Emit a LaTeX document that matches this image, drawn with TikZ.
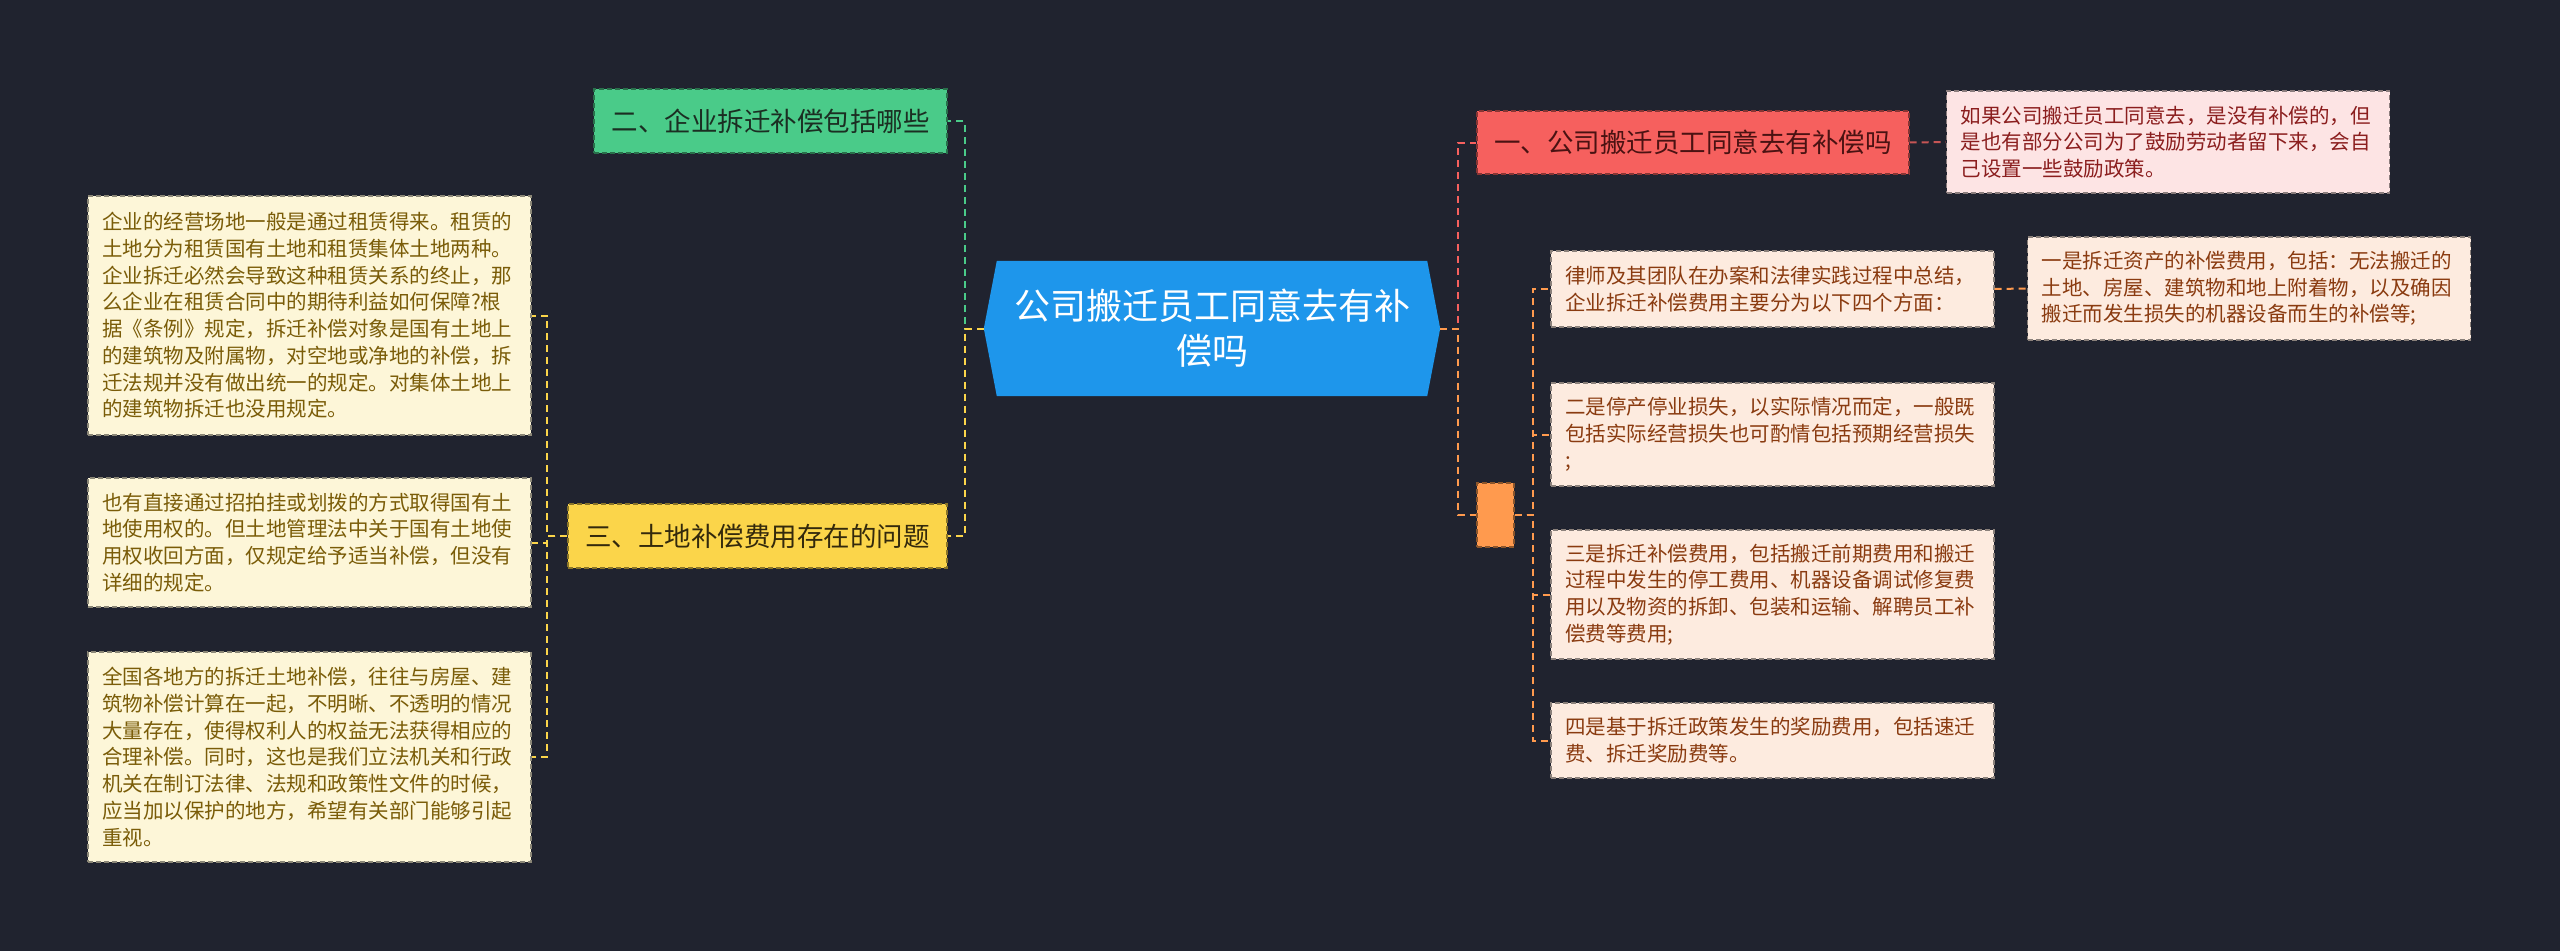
\documentclass[tikz,border=0pt]{standalone}
\usepackage{fontspec}
\setmainfont{Noto Sans CJK SC}
\usetikzlibrary{backgrounds}
\definecolor{bgc}{HTML}{20232F}
\definecolor{rootblue}{HTML}{1E96EB}
\definecolor{gfill}{HTML}{4ACB89}
\definecolor{gtext}{HTML}{1B2E22}
\definecolor{yfill}{HTML}{FBD54A}
\definecolor{ytext}{HTML}{33290C}
\definecolor{rfill}{HTML}{F6605E}
\definecolor{rtext}{HTML}{4A1212}
\definecolor{ofill}{HTML}{FF9A4E}
\definecolor{pinkfill}{HTML}{FDE4E4}
\definecolor{pinktext}{HTML}{8B1E1E}
\definecolor{peachfill}{HTML}{FDEBDF}
\definecolor{peachtext}{HTML}{8A3B10}
\definecolor{creamfill}{HTML}{FDF6D8}
\definecolor{creamtext}{HTML}{7A5C08}
\definecolor{pinkline}{HTML}{C65555}
\begin{document}
\begin{tikzpicture}[x=1pt,y=-1pt,
  bord/.style={dash pattern=on 5pt off 3pt, line width=1.2pt},
  link/.style={line width=2pt, dash pattern=on 7pt off 5pt},
  titlebox/.style={bord, inner sep=0pt, font=\fontsize{26.5}{32}\selectfont, minimum height=64pt},
  txtbox/.style={bord, inner sep=0pt, align=left, text width=415pt, minimum width=443pt,
     font=\fontsize{20.5}{26.7}\selectfont},
  lbox/.style={txtbox, fill=creamfill, draw=creamfill!55!black, text=creamtext},
  rbox/.style={txtbox, fill=peachfill, draw=peachfill!55!black, text=peachtext},
  pbox/.style={txtbox, fill=pinkfill, draw=pinkfill!55!black, text=pinktext}
]
% root
\node[text=white, font=\fontsize{36}{45}\selectfont, align=center, minimum width=456pt,
      minimum height=135pt, inner sep=0pt] (root) at (1212,328.5) {公司搬迁员工同意去有补\\偿吗};
\begin{scope}[on background layer]
  \fill[bgc] (0,0) rectangle (2560,951);
  \fill[rootblue] (root.west) -- ([xshift=13pt]root.north west) -- ([xshift=-13pt]root.north east)
     -- (root.east) -- ([xshift=-13pt]root.south east) -- ([xshift=13pt]root.south west) -- cycle;
\end{scope}

% left branch
\node[titlebox, fill=gfill, draw=gfill!55!black, text=gtext, minimum width=353pt] (n2) at (770.5,121) {二、企业拆迁补偿包括哪些};
\node[titlebox, fill=yfill, draw=yfill!55!black, text=ytext, minimum width=379pt] (n3) at (757.5,536) {三、土地补偿费用存在的问题};

\node[lbox, minimum height=239pt] (l1) at (309.5,315.5) {企业的经营场地一般是通过租赁得来。租赁的\\土地分为租赁国有土地和租赁集体土地两种。\\企业拆迁必然会导致这种租赁关系的终止，那\\么企业在租赁合同中的期待利益如何保障?根\\据《条例》规定，拆迁补偿对象是国有土地上\\的建筑物及附属物，对空地或净地的补偿，拆\\迁法规并没有做出统一的规定。对集体土地上\\的建筑物拆迁也没用规定。};
\node[lbox, minimum height=129pt] (l2) at (309.5,542.5) {也有直接通过招拍挂或划拨的方式取得国有土\\地使用权的。但土地管理法中关于国有土地使\\用权收回方面，仅规定给予适当补偿，但没有\\详细的规定。};
\node[lbox, minimum height=210pt] (l3) at (309.5,757) {全国各地方的拆迁土地补偿，往往与房屋、建\\筑物补偿计算在一起，不明晰、不透明的情况\\大量存在，使得权利人的权益无法获得相应的\\合理补偿。同时，这也是我们立法机关和行政\\机关在制订法律、法规和政策性文件的时候，\\应当加以保护的地方，希望有关部门能够引起\\重视。};

% right branch
\node[titlebox, fill=rfill, draw=rfill!55!black, text=rtext, minimum width=432pt, minimum height=63pt] (n1) at (1693,142.5) {一、公司搬迁员工同意去有补偿吗};
\node[pbox, minimum height=102pt] (p1) at (2168,142) {如果公司搬迁员工同意去，是没有补偿的，但\\是也有部分公司为了鼓励劳动者留下来，会自\\己设置一些鼓励政策。};
\node[bord, fill=ofill, draw=ofill!55!black, minimum width=37pt, minimum height=64pt, inner sep=0pt] (n4) at (1495.5,515) {};

\node[rbox, minimum height=76pt] (r1) at (1772.5,289) {律师及其团队在办案和法律实践过程中总结，\\企业拆迁补偿费用主要分为以下四个方面：};
\node[rbox, minimum height=103pt] (r1a) at (2249,288.5) {一是拆迁资产的补偿费用，包括：无法搬迁的\\土地、房屋、建筑物和地上附着物，以及确因\\搬迁而发生损失的机器设备而生的补偿等;};
\node[rbox, minimum height=103pt] (r2) at (1772.5,434.5) {二是停产停业损失，以实际情况而定，一般既\\包括实际经营损失也可酌情包括预期经营损失\\;};
\node[rbox, minimum height=129pt] (r3) at (1772.5,594.5) {三是拆迁补偿费用，包括搬迁前期费用和搬迁\\过程中发生的停工费用、机器设备调试修复费\\用以及物资的拆卸、包装和运输、解聘员工补\\偿费等费用;};
\node[rbox, minimum height=75pt] (r4) at (1772.5,740.5) {四是基于拆迁政策发生的奖励费用，包括速迁\\费、拆迁奖励费等。};

% connectors
\draw[link, gfill] (root.west) -- ++(-19,0) |- (n2.east);
\draw[link, yfill] (root.west) -- ++(-19,0) |- (n3.east);
\draw[link, yfill] (n3.west) -- ++(-20,0) |- (l1.east);
\draw[link, yfill] (n3.west) -- ++(-20,0) |- (l2.east);
\draw[link, yfill] (n3.west) -- ++(-20,0) |- (l3.east);

\draw[link, rfill] (root.east) -- ++(18,0) |- (n1.west);
\draw[link, ofill] (root.east) -- ++(18,0) |- (n4.west);
\draw[link, pinkline] (n1.east) -- (p1.west);
\draw[link, ofill] (n4.east) -- ++(18,0) |- (r1.west);
\draw[link, ofill] (n4.east) -- ++(18,0) |- (r2.west);
\draw[link, ofill] (n4.east) -- ++(18,0) |- (r3.west);
\draw[link, ofill] (n4.east) -- ++(18,0) |- (r4.west);
\draw[link, ofill] (r1.east) -- (r1a.west);
\end{tikzpicture}
\end{document}
